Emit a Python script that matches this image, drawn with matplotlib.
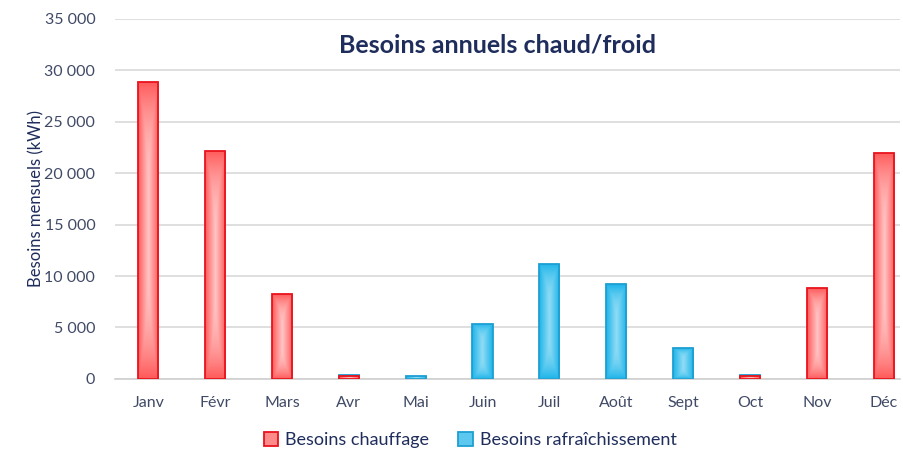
import numpy as np
import matplotlib.pyplot as plt
from matplotlib.colors import LinearSegmentedColormap
from matplotlib.patches import Patch

plt.rcParams['font.family'] = ['Lato', 'DejaVu Sans']

mois = ["Janv", "Févr", "Mars", "Avr", "Mai", "Juin", "Juil", "Août", "Sept", "Oct", "Nov", "Déc"]
chauffage = [28900, 22200, 8250, 250, 0, 0, 0, 0, 0, 300, 8800, 22000]
rafraichissement = [0, 0, 0, 350, 250, 5350, 11200, 9200, 3000, 400, 0, 0]

navy = "#1f2d5c"
tick_col = "#404a66"

cmap_rouge = LinearSegmentedColormap.from_list("rouge", ["#ffc4c4", "#ff5a5a"])
cmap_bleu = LinearSegmentedColormap.from_list("bleu", ["#8fdcf5", "#1cb4ea"])

fig = plt.figure(figsize=(9.04, 4.51), dpi=100)
ax = fig.add_axes([0.127, 0.16, 0.869, 0.798])

x = np.arange(len(mois))
w = 0.3

# gradient texture: light in the middle, stronger towards the edges
u = np.linspace(-1, 1, 60)
v = np.linspace(-1, 1, 200)
U, V = np.meshgrid(u, v)
grad = np.maximum(np.abs(U), np.abs(V) ** 3)


def gradient_bars(values, cmap, edge, zorder):
    bars = ax.bar(x, values, width=w, facecolor="none", edgecolor=edge,
                  linewidth=1.3, zorder=zorder + 1)
    for b, val in zip(bars, values):
        if val <= 0:
            b.set_visible(False)
            continue
        x0, y0 = b.get_x(), b.get_y()
        im = ax.imshow(grad, cmap=cmap, aspect="auto", origin="lower",
                       extent=[x0, x0 + b.get_width(), y0, y0 + b.get_height()],
                       zorder=zorder, interpolation="bilinear")
        im.set_clip_path(b)
    return bars


gradient_bars(rafraichissement, cmap_bleu, "#1d9fd2", 2)
gradient_bars(chauffage, cmap_rouge, "#e8131c", 4)

ax.set_xlim(-0.5, 11.25)
ax.set_ylim(0, 35000)
ax.set_yticks(np.arange(0, 35001, 5000))
ax.set_yticklabels([f"{t:,}".replace(",", " ") for t in range(0, 35001, 5000)])
ax.set_xticks(x)
ax.set_xticklabels(mois)
ax.grid(axis="y", color="#d9d9d9", linewidth=1.2, zorder=0)
ax.set_axisbelow(True)
for s in ["left", "right", "top"]:
    ax.spines[s].set_visible(False)
ax.spines["bottom"].set_color("#d0d0d0")
ax.spines["bottom"].set_linewidth(1.2)
ax.tick_params(axis="both", length=0, colors=tick_col)
ax.tick_params(axis="x", pad=12, labelsize=11.5)
ax.tick_params(axis="y", pad=14, labelsize=11.5)

ax.set_ylabel("Besoins mensuels (kWh)", color=navy, fontsize=12, labelpad=0)
ax.text(0.487, 0.928, "Besoins annuels chaud/froid", transform=ax.transAxes,
        ha="center", va="center", fontsize=18, fontweight="bold", color=navy)

handles = [
    Patch(facecolor="#ff8a8a", edgecolor="#e8131c", linewidth=1.3, label="Besoins chauffage"),
    Patch(facecolor="#5cc8ef", edgecolor="#1d9fd2", linewidth=1.3, label="Besoins rafraîchissement"),
]
fig.legend(handles=handles, loc="center", bbox_to_anchor=(0.52, 0.024), ncol=2,
           frameon=False, fontsize=13, labelcolor=navy, handlelength=0.8,
           handleheight=0.8, handletextpad=0.4, columnspacing=1.6)

fig.savefig("out.png", dpi=100)
